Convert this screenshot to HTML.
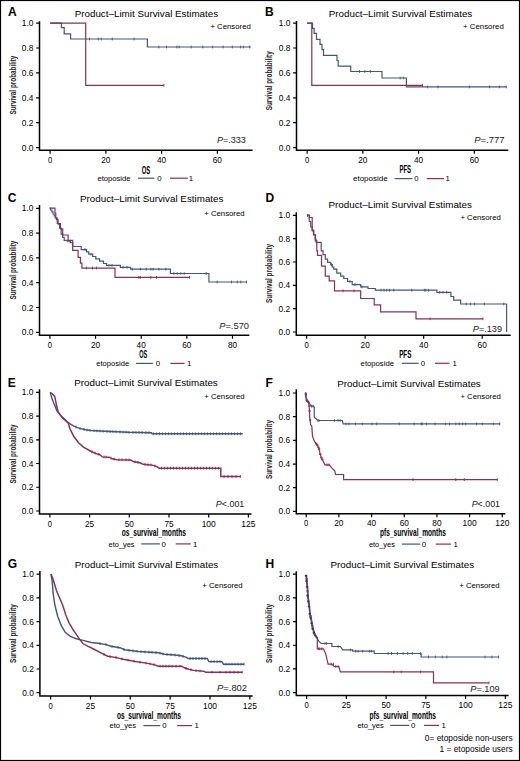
<!DOCTYPE html>
<html><head><meta charset="utf-8"><title>Survival estimates</title>
<style>html,body{margin:0;padding:0;background:#fff;}svg{display:block;}</style>
</head><body>
<svg width="520" height="761" viewBox="0 0 520 761" font-family='"Liberation Sans", sans-serif'>
<rect x="0" y="0" width="520" height="761" fill="#fff"/>
<path d="M39.5,21.3V150.3H252.6" stroke="#000" stroke-width="1.5" fill="none"/>
<path d="M36.1,147.6H39.5M36.1,122.7H39.5M36.1,97.8H39.5M36.1,72.9H39.5M36.1,48H39.5M36.1,23.1H39.5M50.1,150.3V153.8M105.86,150.3V153.8M161.62,150.3V153.8M217.38,150.3V153.8" stroke="#000" stroke-width="1.2" fill="none"/>
<text x="33.4" y="150.6" font-size="8.6" text-anchor="end" textLength="11.6" lengthAdjust="spacingAndGlyphs">0.0</text>
<text x="33.4" y="125.7" font-size="8.6" text-anchor="end" textLength="11.6" lengthAdjust="spacingAndGlyphs">0.2</text>
<text x="33.4" y="100.8" font-size="8.6" text-anchor="end" textLength="11.6" lengthAdjust="spacingAndGlyphs">0.4</text>
<text x="33.4" y="75.9" font-size="8.6" text-anchor="end" textLength="11.6" lengthAdjust="spacingAndGlyphs">0.6</text>
<text x="33.4" y="51" font-size="8.6" text-anchor="end" textLength="11.6" lengthAdjust="spacingAndGlyphs">0.8</text>
<text x="33.4" y="26.1" font-size="8.6" text-anchor="end" textLength="11.6" lengthAdjust="spacingAndGlyphs">1.0</text>
<text x="50.1" y="162.9" font-size="8.6" text-anchor="middle" textLength="4.25" lengthAdjust="spacingAndGlyphs">0</text>
<text x="105.86" y="162.9" font-size="8.6" text-anchor="middle" textLength="9.2" lengthAdjust="spacingAndGlyphs">20</text>
<text x="161.62" y="162.9" font-size="8.6" text-anchor="middle" textLength="9.2" lengthAdjust="spacingAndGlyphs">40</text>
<text x="217.38" y="162.9" font-size="8.6" text-anchor="middle" textLength="9.2" lengthAdjust="spacingAndGlyphs">60</text>
<text transform="translate(15.8,85.1) rotate(-90)" x="0" y="0" font-size="9.4" font-weight="bold" text-anchor="middle" textLength="59" lengthAdjust="spacingAndGlyphs" fill="#222">Survival probability</text>
<text x="8" y="16" font-size="12.0" font-weight="bold" fill="#000">A</text>
<text x="146.4" y="16.7" font-size="9.4" text-anchor="middle" textLength="143.5" lengthAdjust="spacingAndGlyphs">Product–Limit Survival Estimates</text>
<text x="210.4" y="29" font-size="8.0" textLength="40.4" lengthAdjust="spacingAndGlyphs">+ Censored</text>
<text x="216.9" y="143" font-size="9" textLength="29" lengthAdjust="spacingAndGlyphs" fill="#222"><tspan font-style="italic">P</tspan>=.333</text>
<text x="141.8" y="173.7" font-size="10.4" textLength="8.5" lengthAdjust="spacingAndGlyphs" font-weight="bold">OS</text>
<text x="97.4" y="180.8" font-size="7.6" textLength="33.2" lengthAdjust="spacingAndGlyphs">etoposide</text>
<path d="M137.9,178.2H154.5" stroke="#46557c" stroke-width="1.2"/>
<path d="M169.9,178.2H187.9" stroke="#8a3052" stroke-width="1.2"/>
<text x="157.3" y="181" font-size="7.8">0</text>
<text x="188.8" y="181" font-size="7.8">1</text>
<path d="M50.1,23.1H61.4V27.7H64.2V33.9H70.6V39H147.4V47H250.8" stroke="#46557c" stroke-width="1.2" fill="none"/>
<path d="M89.5,37.6V40.4M98.3,37.6V40.4M101.3,37.6V40.4M112.2,37.6V40.4M134.1,37.6V40.4M158.9,45.6V48.4M166.5,45.6V48.4M176.9,45.6V48.4M179.2,45.6V48.4M191.2,45.6V48.4M202.8,45.6V48.4M212.7,45.6V48.4M223.1,45.6V48.4M232.3,45.6V48.4M240.4,45.6V48.4M243.4,45.6V48.4M249.6,45.6V48.4" stroke="#46557c" stroke-width="0.9" fill="none"/>
<path d="M50.1,23.1H85.7V85.3H163.9" stroke="#8a3052" stroke-width="1.2" fill="none"/>
<path d="M163.9,83.9V86.7" stroke="#8a3052" stroke-width="0.9" fill="none"/>
<path d="M296.5,20.9V150.3H508.3" stroke="#000" stroke-width="1.5" fill="none"/>
<path d="M293.1,147.6H296.5M293.1,122.7H296.5M293.1,97.8H296.5M293.1,72.9H296.5M293.1,48H296.5M293.1,23.1H296.5M307.1,150.3V153.8M362.84,150.3V153.8M418.58,150.3V153.8M474.32,150.3V153.8" stroke="#000" stroke-width="1.2" fill="none"/>
<text x="290.4" y="150.6" font-size="8.6" text-anchor="end" textLength="11.6" lengthAdjust="spacingAndGlyphs">0.0</text>
<text x="290.4" y="125.7" font-size="8.6" text-anchor="end" textLength="11.6" lengthAdjust="spacingAndGlyphs">0.2</text>
<text x="290.4" y="100.8" font-size="8.6" text-anchor="end" textLength="11.6" lengthAdjust="spacingAndGlyphs">0.4</text>
<text x="290.4" y="75.9" font-size="8.6" text-anchor="end" textLength="11.6" lengthAdjust="spacingAndGlyphs">0.6</text>
<text x="290.4" y="51" font-size="8.6" text-anchor="end" textLength="11.6" lengthAdjust="spacingAndGlyphs">0.8</text>
<text x="290.4" y="26.1" font-size="8.6" text-anchor="end" textLength="11.6" lengthAdjust="spacingAndGlyphs">1.0</text>
<text x="307.1" y="162.9" font-size="8.6" text-anchor="middle" textLength="4.25" lengthAdjust="spacingAndGlyphs">0</text>
<text x="362.84" y="162.9" font-size="8.6" text-anchor="middle" textLength="9.2" lengthAdjust="spacingAndGlyphs">20</text>
<text x="418.58" y="162.9" font-size="8.6" text-anchor="middle" textLength="9.2" lengthAdjust="spacingAndGlyphs">40</text>
<text x="474.32" y="162.9" font-size="8.6" text-anchor="middle" textLength="9.2" lengthAdjust="spacingAndGlyphs">60</text>
<text transform="translate(272.1,80.8) rotate(-90)" x="0" y="0" font-size="9.4" font-weight="bold" text-anchor="middle" textLength="59" lengthAdjust="spacingAndGlyphs" fill="#222">Survival probability</text>
<text x="264.9" y="16.4" font-size="12.0" font-weight="bold" fill="#000">B</text>
<text x="400.5" y="16.9" font-size="9.4" text-anchor="middle" textLength="143.5" lengthAdjust="spacingAndGlyphs">Product–Limit Survival Estimates</text>
<text x="463.1" y="29.2" font-size="8.0" textLength="40.7" lengthAdjust="spacingAndGlyphs">+ Censored</text>
<text x="474.3" y="143" font-size="9" textLength="30.3" lengthAdjust="spacingAndGlyphs" fill="#222"><tspan font-style="italic">P</tspan>=.777</text>
<text x="399.4" y="173" font-size="10.4" textLength="11.7" lengthAdjust="spacingAndGlyphs" font-weight="bold">PFS</text>
<text x="353" y="181.2" font-size="7.6" textLength="34.7" lengthAdjust="spacingAndGlyphs">etoposide</text>
<path d="M394.6,178.6H412.4" stroke="#46557c" stroke-width="1.2"/>
<path d="M426.8,178.6H444" stroke="#8a3052" stroke-width="1.2"/>
<text x="414.2" y="181.4" font-size="7.8">0</text>
<text x="445.4" y="181.4" font-size="7.8">1</text>
<path d="M307.1,23.1H312.5V28.3H314.1V33.3H316.5V39.3H320V44.4H322V49.6H323.5V55.3H337V60.5H338.2V66.2H350.7V71.5H382V78H406.4V86.9H506.3" stroke="#46557c" stroke-width="1.2" fill="none"/>
<path d="M359.5,70.1V72.9M364.8,70.1V72.9M370.3,70.1V72.9M400.2,76.6V79.4M403.3,76.6V79.4M427.6,85.5V88.3M438,85.5V88.3M469.4,85.5V88.3M489.5,85.5V88.3M499.4,85.5V88.3M506.3,85.5V88.3" stroke="#46557c" stroke-width="0.9" fill="none"/>
<path d="M307.1,23.1H311.8V85.4H422.5" stroke="#8a3052" stroke-width="1.2" fill="none"/>
<path d="M422.5,84V86.8" stroke="#8a3052" stroke-width="0.9" fill="none"/>
<path d="M39.5,204.9V335.3H249.4" stroke="#000" stroke-width="1.5" fill="none"/>
<path d="M36.1,332.3H39.5M36.1,307.5H39.5M36.1,282.7H39.5M36.1,257.9H39.5M36.1,233.1H39.5M36.1,208.3H39.5M49.9,335.3V338.8M95.55,335.3V338.8M141.2,335.3V338.8M186.85,335.3V338.8M232.5,335.3V338.8" stroke="#000" stroke-width="1.2" fill="none"/>
<text x="33.4" y="335.3" font-size="8.6" text-anchor="end" textLength="11.6" lengthAdjust="spacingAndGlyphs">0.0</text>
<text x="33.4" y="310.5" font-size="8.6" text-anchor="end" textLength="11.6" lengthAdjust="spacingAndGlyphs">0.2</text>
<text x="33.4" y="285.7" font-size="8.6" text-anchor="end" textLength="11.6" lengthAdjust="spacingAndGlyphs">0.4</text>
<text x="33.4" y="260.9" font-size="8.6" text-anchor="end" textLength="11.6" lengthAdjust="spacingAndGlyphs">0.6</text>
<text x="33.4" y="236.1" font-size="8.6" text-anchor="end" textLength="11.6" lengthAdjust="spacingAndGlyphs">0.8</text>
<text x="33.4" y="211.3" font-size="8.6" text-anchor="end" textLength="11.6" lengthAdjust="spacingAndGlyphs">1.0</text>
<text x="49.9" y="347.9" font-size="8.6" text-anchor="middle" textLength="4.25" lengthAdjust="spacingAndGlyphs">0</text>
<text x="95.55" y="347.9" font-size="8.6" text-anchor="middle" textLength="9.2" lengthAdjust="spacingAndGlyphs">20</text>
<text x="141.2" y="347.9" font-size="8.6" text-anchor="middle" textLength="9.2" lengthAdjust="spacingAndGlyphs">40</text>
<text x="186.85" y="347.9" font-size="8.6" text-anchor="middle" textLength="9.2" lengthAdjust="spacingAndGlyphs">60</text>
<text x="232.5" y="347.9" font-size="8.6" text-anchor="middle" textLength="9.2" lengthAdjust="spacingAndGlyphs">80</text>
<text transform="translate(15.8,270.1) rotate(-90)" x="0" y="0" font-size="9.4" font-weight="bold" text-anchor="middle" textLength="59" lengthAdjust="spacingAndGlyphs" fill="#222">Survival probability</text>
<text x="7.8" y="201.7" font-size="12.0" font-weight="bold" fill="#000">C</text>
<text x="151.7" y="201.6" font-size="9.4" text-anchor="middle" textLength="143.5" lengthAdjust="spacingAndGlyphs">Product–Limit Survival Estimates</text>
<text x="204.2" y="215.5" font-size="8.0" textLength="40.4" lengthAdjust="spacingAndGlyphs">+ Censored</text>
<text x="219.2" y="328.6" font-size="9" textLength="29.8" lengthAdjust="spacingAndGlyphs" fill="#222"><tspan font-style="italic">P</tspan>=.570</text>
<text x="139.2" y="358.4" font-size="10.4" textLength="8" lengthAdjust="spacingAndGlyphs" font-weight="bold">OS</text>
<text x="96.3" y="366" font-size="7.6" textLength="32.8" lengthAdjust="spacingAndGlyphs">etoposide</text>
<path d="M136.1,363.4H153" stroke="#46557c" stroke-width="1.2"/>
<path d="M170.4,363.4H184.6" stroke="#8a3052" stroke-width="1.2"/>
<text x="155.8" y="366.2" font-size="7.8">0</text>
<text x="187" y="366.2" font-size="7.8">1</text>
<path d="M49.6,208.2H50.5V210H51.9V211.9H53V214H54.2V215.8H55.3V218H56.5V219.6H58.1V224.2H59.6V228.1H61.2V234.2H62.7V237.3H64.2V240.4H67.3V241.2H70.4V242.7H72.7V246.5H81.2V249.6H86.5V251.9H88.8V254.2H92.7V256.5H95.8V258.8H99.6V261.2H103.5V263.5H106.5V265.3H120.4V267.3H130.6V269.2H170.4V273.5H208.9V282H246.5" stroke="#46557c" stroke-width="1.2" fill="none"/>
<path d="M132.3,267.8V270.6M140.4,267.8V270.6M146.2,267.8V270.6M150.8,267.8V270.6M153.1,267.8V270.6M158.8,267.8V270.6M165.8,267.8V270.6M173.8,272.1V274.9M177.3,272.1V274.9M180.8,272.1V274.9M184.2,272.1V274.9M206.2,272.1V274.9M217.2,280.6V283.4M231.5,280.6V283.4M237.3,280.6V283.4M240.8,280.6V283.4M246.5,280.6V283.4M85,248.2V251M91,252.8V255.6M109,263.9V266.7M112,263.9V266.7M123,265.9V268.7M127,265.9V268.7" stroke="#46557c" stroke-width="0.9" fill="none"/>
<path d="M49.6,208.2H55V213H55.8V218H57.3V223.5H60.4V228.8H62.7V235H68.1V240.4H72.7V250.4H78.1V257.3H80.4V263.2H81.9V268.1H115V277.4H189.5" stroke="#8a3052" stroke-width="1.2" fill="none"/>
<path d="M138.8,276V278.8M140.4,276V278.8M150.8,276V278.8M156.5,276V278.8M189.5,276V278.8M86.3,266.6V269.4M92.5,266.6V269.4M96.5,266.6V269.4" stroke="#8a3052" stroke-width="0.9" fill="none"/>
<path d="M296.3,212.3V335.3H510.7" stroke="#000" stroke-width="1.5" fill="none"/>
<path d="M292.9,332H296.3M292.9,308.66H296.3M292.9,285.32H296.3M292.9,261.98H296.3M292.9,238.64H296.3M292.9,215.3H296.3M306.6,335.3V338.8M365.14,335.3V338.8M423.68,335.3V338.8M482.22,335.3V338.8" stroke="#000" stroke-width="1.2" fill="none"/>
<text x="290.2" y="335" font-size="8.6" text-anchor="end" textLength="11.6" lengthAdjust="spacingAndGlyphs">0.0</text>
<text x="290.2" y="311.66" font-size="8.6" text-anchor="end" textLength="11.6" lengthAdjust="spacingAndGlyphs">0.2</text>
<text x="290.2" y="288.32" font-size="8.6" text-anchor="end" textLength="11.6" lengthAdjust="spacingAndGlyphs">0.4</text>
<text x="290.2" y="264.98" font-size="8.6" text-anchor="end" textLength="11.6" lengthAdjust="spacingAndGlyphs">0.6</text>
<text x="290.2" y="241.64" font-size="8.6" text-anchor="end" textLength="11.6" lengthAdjust="spacingAndGlyphs">0.8</text>
<text x="290.2" y="218.3" font-size="8.6" text-anchor="end" textLength="11.6" lengthAdjust="spacingAndGlyphs">1.0</text>
<text x="306.6" y="347.9" font-size="8.6" text-anchor="middle" textLength="4.25" lengthAdjust="spacingAndGlyphs">0</text>
<text x="365.14" y="347.9" font-size="8.6" text-anchor="middle" textLength="9.2" lengthAdjust="spacingAndGlyphs">20</text>
<text x="423.68" y="347.9" font-size="8.6" text-anchor="middle" textLength="9.2" lengthAdjust="spacingAndGlyphs">40</text>
<text x="482.22" y="347.9" font-size="8.6" text-anchor="middle" textLength="9.2" lengthAdjust="spacingAndGlyphs">60</text>
<text transform="translate(271.9,273.4) rotate(-90)" x="0" y="0" font-size="9.4" font-weight="bold" text-anchor="middle" textLength="59" lengthAdjust="spacingAndGlyphs" fill="#222">Survival probability</text>
<text x="265.6" y="202" font-size="12.0" font-weight="bold" fill="#000">D</text>
<text x="400.2" y="208.1" font-size="9.4" text-anchor="middle" textLength="143.5" lengthAdjust="spacingAndGlyphs">Product–Limit Survival Estimates</text>
<text x="460.4" y="219.6" font-size="8.0" textLength="40.4" lengthAdjust="spacingAndGlyphs">+ Censored</text>
<text x="472.8" y="331.6" font-size="9" textLength="29.2" lengthAdjust="spacingAndGlyphs" fill="#222"><tspan font-style="italic">P</tspan>=.139</text>
<text x="399.2" y="358.3" font-size="10.4" textLength="12.2" lengthAdjust="spacingAndGlyphs" font-weight="bold">PFS</text>
<text x="360.6" y="365.9" font-size="7.6" textLength="33.4" lengthAdjust="spacingAndGlyphs">etoposide</text>
<path d="M401.8,363.3H418.8" stroke="#46557c" stroke-width="1.2"/>
<path d="M435,363.3H449.6" stroke="#8a3052" stroke-width="1.2"/>
<text x="420.8" y="366.1" font-size="7.8">0</text>
<text x="452.6" y="366.1" font-size="7.8">1</text>
<path d="M307.6,215.4H309.2V221.5H310.7V226.9H312.2V230.8H313.8V234.6H315.3V239.2H316.1V242.3H321.2V250.8H323V254.6H325.3V259.2H327.6V262.3H330.7V264.6H332.3V267H333.8V269.2H336.8V273.1H340.7V276.2H343.8V278.5H347.6V281.5H352.2V284.6H360.7V286.9H368V288.5H375.3V290.2H436.9V292.3H450.9V296.5H453.7V300.1H460.6V304H506.6V332H506.6" stroke="#46557c" stroke-width="1.2" fill="none"/>
<path d="M381,288.8V291.6M384,288.8V291.6M386.7,288.8V291.6M389.5,288.8V291.6M393.7,288.8V291.6M411.8,288.8V291.6M424.4,288.8V291.6M425.8,288.8V291.6M428.6,288.8V291.6M439.7,290.9V293.7M443,290.9V293.7M446.7,290.9V293.7M466.2,302.6V305.4M470.4,302.6V305.4M474.6,302.6V305.4M484.3,302.6V305.4M503.8,302.6V305.4M307.6,214V216.8M349.9,280.1V282.9M355,283.2V286M362,285.5V288.3M331.5,263.2V266" stroke="#46557c" stroke-width="0.9" fill="none"/>
<path d="M307.6,215.4H309.5V217.5H312.2V230H313.5V235H315.3V240.8H316.8V250.8H317.5V255.4H321.5V266.2H325.3V276.2H329.2V280.8H334.5V290.8H360.7V298.5H374.2V304.9H380.6V311.8H416V318.8H482.9" stroke="#8a3052" stroke-width="1.2" fill="none"/>
<path d="M430,317.4V320.2M482.9,317.4V320.2M343,289.4V292.2M354,289.4V292.2M307.6,214V216.8" stroke="#8a3052" stroke-width="0.9" fill="none"/>
<path d="M39.5,389.2V514H251.5" stroke="#000" stroke-width="1.5" fill="none"/>
<path d="M36.1,511H39.5M36.1,487.26H39.5M36.1,463.52H39.5M36.1,439.78H39.5M36.1,416.04H39.5M36.1,392.3H39.5M49.9,514V517.5M89.6,514V517.5M129.3,514V517.5M169,514V517.5M208.7,514V517.5M248.4,514V517.5" stroke="#000" stroke-width="1.2" fill="none"/>
<text x="33.4" y="514" font-size="8.6" text-anchor="end" textLength="11.6" lengthAdjust="spacingAndGlyphs">0.0</text>
<text x="33.4" y="490.26" font-size="8.6" text-anchor="end" textLength="11.6" lengthAdjust="spacingAndGlyphs">0.2</text>
<text x="33.4" y="466.52" font-size="8.6" text-anchor="end" textLength="11.6" lengthAdjust="spacingAndGlyphs">0.4</text>
<text x="33.4" y="442.78" font-size="8.6" text-anchor="end" textLength="11.6" lengthAdjust="spacingAndGlyphs">0.6</text>
<text x="33.4" y="419.04" font-size="8.6" text-anchor="end" textLength="11.6" lengthAdjust="spacingAndGlyphs">0.8</text>
<text x="33.4" y="395.3" font-size="8.6" text-anchor="end" textLength="11.6" lengthAdjust="spacingAndGlyphs">1.0</text>
<text x="49.9" y="526.6" font-size="8.6" text-anchor="middle" textLength="4.25" lengthAdjust="spacingAndGlyphs">0</text>
<text x="89.6" y="526.6" font-size="8.6" text-anchor="middle" textLength="9.2" lengthAdjust="spacingAndGlyphs">25</text>
<text x="129.3" y="526.6" font-size="8.6" text-anchor="middle" textLength="9.2" lengthAdjust="spacingAndGlyphs">50</text>
<text x="169" y="526.6" font-size="8.6" text-anchor="middle" textLength="9.2" lengthAdjust="spacingAndGlyphs">75</text>
<text x="208.7" y="526.6" font-size="8.6" text-anchor="middle" textLength="14.15" lengthAdjust="spacingAndGlyphs">100</text>
<text x="248.4" y="526.6" font-size="8.6" text-anchor="middle" textLength="14.15" lengthAdjust="spacingAndGlyphs">125</text>
<text transform="translate(15.8,453.9) rotate(-90)" x="0" y="0" font-size="9.4" font-weight="bold" text-anchor="middle" textLength="59" lengthAdjust="spacingAndGlyphs" fill="#222">Survival probability</text>
<text x="7.8" y="386.7" font-size="12.0" font-weight="bold" fill="#000">E</text>
<text x="146" y="386.2" font-size="9.4" text-anchor="middle" textLength="143.5" lengthAdjust="spacingAndGlyphs">Product–Limit Survival Estimates</text>
<text x="204.2" y="398.9" font-size="8.0" textLength="40.4" lengthAdjust="spacingAndGlyphs">+ Censored</text>
<text x="215.8" y="506.9" font-size="9" textLength="28.5" lengthAdjust="spacingAndGlyphs" fill="#222"><tspan font-style="italic">P</tspan><.001</text>
<text x="121.8" y="536" font-size="10.4" textLength="64.1" lengthAdjust="spacingAndGlyphs" font-weight="bold">os_survival_months</text>
<text x="108.6" y="546.5" font-size="7.6" textLength="26" lengthAdjust="spacingAndGlyphs">eto_yes</text>
<path d="M141.3,543.9H159.9" stroke="#46557c" stroke-width="1.2"/>
<path d="M175.7,543.9H190.8" stroke="#8a3052" stroke-width="1.2"/>
<text x="161.6" y="546.7" font-size="7.8">0</text>
<text x="193" y="546.7" font-size="7.8">1</text>
<path d="M50.2,392.4 L51.8,398 L53.7,403 L57.1,411.1 L62.3,417.4 L68.1,422.6 L73.8,426.1 L79.6,428.4 L85.4,429.8 L91.2,430.5 L105,431.3 L128.3,432.3 L151.5,432.7 L152,433.8 L242.7,433.8" stroke="#46557c" stroke-width="1.45" fill="none"/>
<path d="M76,425.57V428.37M80,427.1V429.9M84,428.06V430.86M87,428.59V431.39M90,428.96V431.76M94,429.26V432.06M97,429.44V432.24M100,429.61V432.41M103,429.78V432.58M107,429.99V432.79M110,430.11V432.91M113,430.24V433.04M116,430.37V433.17M120,430.54V433.34M123,430.67V433.47M126,430.8V433.6M129,430.91V433.71M133,430.98V433.78M136,431.03V433.83M139,431.08V433.88M142,431.14V433.94M146,431.21V434.01M149,431.26V434.06M153.5,432.4V435.2M156.5,432.4V435.2M159.5,432.4V435.2M162.5,432.4V435.2M165.5,432.4V435.2M168.5,432.4V435.2M171.5,432.4V435.2M174.5,432.4V435.2M177.5,432.4V435.2M180.5,432.4V435.2M183.5,432.4V435.2M186.5,432.4V435.2M189.5,432.4V435.2M192.5,432.4V435.2M195.5,432.4V435.2M198.5,432.4V435.2M201.5,432.4V435.2M204.5,432.4V435.2M207.5,432.4V435.2M210.5,432.4V435.2M213.5,432.4V435.2M216.5,432.4V435.2M219.5,432.4V435.2M222.5,432.4V435.2M225.5,432.4V435.2M228.5,432.4V435.2M231.5,432.4V435.2M234.5,432.4V435.2M237.5,432.4V435.2M240.5,432.4V435.2" stroke="#46557c" stroke-width="0.9" fill="none"/>
<path d="M50.2,392.4 L52.5,394 L54.8,396.7 L56.5,405.3 L58.3,412.2 L62.3,417.4 L68.1,422.6 L69.8,428.4 L73.8,436.5 L78.5,442.8 L83.1,446.8 L91.2,451.5 L98.1,454.3 L100,454.6 L102.3,456.9 L109.2,457.2 L112.3,458.8 L116.9,459.7 L130.8,460 L133.1,461.5 L140,462.8 L143,464.3 L152.3,465.1 L156.9,466.6 L159.2,468.2 L220.8,468.2 L220.8,476.5 L240.4,476.5" stroke="#8a3052" stroke-width="1.45" fill="none"/>
<path d="M92,450.42V453.22M95,451.64V454.44M99,453.04V455.84M104,455.57V458.37M106,455.66V458.46M111,456.73V459.53M114,457.73V460.53M119,458.35V461.15M122,458.41V461.21M126,458.5V461.3M129,458.56V461.36M135,460.46V463.26M138,461.02V463.82M145,463.07V465.87M148,463.33V466.13M151,463.59V466.39M155,464.58V467.38M161.5,466.8V469.6M164.5,466.8V469.6M167.5,466.8V469.6M170.5,466.8V469.6M173.5,466.8V469.6M176.5,466.8V469.6M179.5,466.8V469.6M182.5,466.8V469.6M185.5,466.8V469.6M188.5,466.8V469.6M191.5,466.8V469.6M194.5,466.8V469.6M197.5,466.8V469.6M200.5,466.8V469.6M203.5,466.8V469.6M206.5,466.8V469.6M209.5,466.8V469.6M212.5,466.8V469.6M215.5,466.8V469.6M218.5,466.8V469.6M224,475.1V477.9M228,475.1V477.9M232,475.1V477.9M236,475.1V477.9M240.4,475.1V477.9" stroke="#8a3052" stroke-width="0.9" fill="none"/>
<path d="M296.3,389.2V513.7H505.4" stroke="#000" stroke-width="1.5" fill="none"/>
<path d="M292.9,511.4H296.3M292.9,487.72H296.3M292.9,464.04H296.3M292.9,440.36H296.3M292.9,416.68H296.3M292.9,393H296.3M306.2,513.7V517.2M338.88,513.7V517.2M371.56,513.7V517.2M404.24,513.7V517.2M436.92,513.7V517.2M469.6,513.7V517.2M502.28,513.7V517.2" stroke="#000" stroke-width="1.2" fill="none"/>
<text x="290.2" y="514.4" font-size="8.6" text-anchor="end" textLength="11.6" lengthAdjust="spacingAndGlyphs">0.0</text>
<text x="290.2" y="490.72" font-size="8.6" text-anchor="end" textLength="11.6" lengthAdjust="spacingAndGlyphs">0.2</text>
<text x="290.2" y="467.04" font-size="8.6" text-anchor="end" textLength="11.6" lengthAdjust="spacingAndGlyphs">0.4</text>
<text x="290.2" y="443.36" font-size="8.6" text-anchor="end" textLength="11.6" lengthAdjust="spacingAndGlyphs">0.6</text>
<text x="290.2" y="419.68" font-size="8.6" text-anchor="end" textLength="11.6" lengthAdjust="spacingAndGlyphs">0.8</text>
<text x="290.2" y="396" font-size="8.6" text-anchor="end" textLength="11.6" lengthAdjust="spacingAndGlyphs">1.0</text>
<text x="306.2" y="526.3" font-size="8.6" text-anchor="middle" textLength="4.25" lengthAdjust="spacingAndGlyphs">0</text>
<text x="338.88" y="526.3" font-size="8.6" text-anchor="middle" textLength="9.2" lengthAdjust="spacingAndGlyphs">20</text>
<text x="371.56" y="526.3" font-size="8.6" text-anchor="middle" textLength="9.2" lengthAdjust="spacingAndGlyphs">40</text>
<text x="404.24" y="526.3" font-size="8.6" text-anchor="middle" textLength="9.2" lengthAdjust="spacingAndGlyphs">60</text>
<text x="436.92" y="526.3" font-size="8.6" text-anchor="middle" textLength="9.2" lengthAdjust="spacingAndGlyphs">80</text>
<text x="469.6" y="526.3" font-size="8.6" text-anchor="middle" textLength="14.15" lengthAdjust="spacingAndGlyphs">100</text>
<text x="502.28" y="526.3" font-size="8.6" text-anchor="middle" textLength="14.15" lengthAdjust="spacingAndGlyphs">120</text>
<text transform="translate(272.1,449.5) rotate(-90)" x="0" y="0" font-size="9.4" font-weight="bold" text-anchor="middle" textLength="59" lengthAdjust="spacingAndGlyphs" fill="#222">Survival probability</text>
<text x="265.6" y="386.7" font-size="12.0" font-weight="bold" fill="#000">F</text>
<text x="409" y="386.5" font-size="9.4" text-anchor="middle" textLength="143.5" lengthAdjust="spacingAndGlyphs">Product–Limit Survival Estimates</text>
<text x="460.4" y="398.9" font-size="8.0" textLength="40.4" lengthAdjust="spacingAndGlyphs">+ Censored</text>
<text x="471.7" y="506.7" font-size="9" textLength="28.3" lengthAdjust="spacingAndGlyphs" fill="#222"><tspan font-style="italic">P</tspan><.001</text>
<text x="380.1" y="536" font-size="10.4" textLength="65.8" lengthAdjust="spacingAndGlyphs" font-weight="bold">pfs_survival_months</text>
<text x="368.9" y="546.7" font-size="7.6" textLength="26" lengthAdjust="spacingAndGlyphs">eto_yes</text>
<path d="M401.9,544.1H420.3" stroke="#46557c" stroke-width="1.2"/>
<path d="M435.7,544.1H451" stroke="#8a3052" stroke-width="1.2"/>
<text x="421.8" y="546.9" font-size="7.8">0</text>
<text x="453.6" y="546.9" font-size="7.8">1</text>
<path d="M305.6,392.5 L305.9,397.5 L307.5,400 L309.4,403.7 L311.2,406.2 L313.7,406.2 L314.3,407.5 L314.3,417.4 L316.2,418.7 L317.5,420.5 L342.4,420.5 L343,423.9 L500.3,423.9" stroke="#46557c" stroke-width="1.2" fill="none"/>
<path d="M345.9,422.5V425.3M348.8,422.5V425.3M355.5,422.5V425.3M362.3,422.5V425.3M371.9,422.5V425.3M376.7,422.5V425.3M399.2,422.5V425.3M414.2,422.5V425.3M421.2,422.5V425.3M422.3,422.5V425.3M426.5,422.5V425.3M435,422.5V425.3M445.4,422.5V425.3M449.5,422.5V425.3M455.8,422.5V425.3M459.2,422.5V425.3M462.7,422.5V425.3M465.7,422.5V425.3M476.5,422.5V425.3M482.3,422.5V425.3M493.4,422.5V425.3M499.6,422.5V425.3M317.9,419.1V421.9M319,419.1V421.9M334.4,419.1V421.9M338,419.1V421.9M340.2,419.1V421.9M311.5,404.8V407.6M313,404.8V407.6" stroke="#46557c" stroke-width="0.9" fill="none"/>
<path d="M304.7,395h2.2M304.7,393.5h2.2" stroke="#46557c" stroke-width="1.6" fill="none"/>
<path d="M305.6,392.5 L306.2,400.6 L308.7,402.5 L309.4,408.7 L309.7,417.4 L310.6,424.3 L311.8,426.2 L312.5,436.1 L314.3,441.1 L316.2,443.6 L318.1,446.7 L319.3,449.2 L320,453.6 L321.2,457.3 L323.1,461.1 L324.9,464.8 L329.3,464.8 L332.4,468.6 L334.9,471 L335.5,474.5 L343.6,474.5 L343.6,479.6 L497.3,479.6" stroke="#8a3052" stroke-width="1.2" fill="none"/>
<path d="M413.1,478.2V481M455.8,478.2V481M464.3,478.2V481M497.3,478.2V481M327,463.4V466.2M329,463.4V466.2" stroke="#8a3052" stroke-width="0.9" fill="none"/>
<path d="M306.2,401.2h2.2M307.4,402.4h2.2M308.4,406h2.2M308.5,411h2.2M309,420h2.2M315.2,443.6h2.2M316.2,445.2h2.2M317.3,447.2h2.2M318,449h2.2M319.2,454.3h2.2M320.3,457.6h2.2M321.2,459.5h2.2" stroke="#8a3052" stroke-width="1.6" fill="none"/>
<path d="M39.9,571.1V695.9H252.6" stroke="#000" stroke-width="1.5" fill="none"/>
<path d="M36.5,692.7H39.9M36.5,669H39.9M36.5,645.3H39.9M36.5,621.6H39.9M36.5,597.9H39.9M36.5,574.2H39.9M50.6,695.9V699.4M90.45,695.9V699.4M130.3,695.9V699.4M170.15,695.9V699.4M210,695.9V699.4M249.85,695.9V699.4" stroke="#000" stroke-width="1.2" fill="none"/>
<text x="33.8" y="695.7" font-size="8.6" text-anchor="end" textLength="11.6" lengthAdjust="spacingAndGlyphs">0.0</text>
<text x="33.8" y="672" font-size="8.6" text-anchor="end" textLength="11.6" lengthAdjust="spacingAndGlyphs">0.2</text>
<text x="33.8" y="648.3" font-size="8.6" text-anchor="end" textLength="11.6" lengthAdjust="spacingAndGlyphs">0.4</text>
<text x="33.8" y="624.6" font-size="8.6" text-anchor="end" textLength="11.6" lengthAdjust="spacingAndGlyphs">0.6</text>
<text x="33.8" y="600.9" font-size="8.6" text-anchor="end" textLength="11.6" lengthAdjust="spacingAndGlyphs">0.8</text>
<text x="33.8" y="577.2" font-size="8.6" text-anchor="end" textLength="11.6" lengthAdjust="spacingAndGlyphs">1.0</text>
<text x="50.6" y="708.5" font-size="8.6" text-anchor="middle" textLength="4.25" lengthAdjust="spacingAndGlyphs">0</text>
<text x="90.45" y="708.5" font-size="8.6" text-anchor="middle" textLength="9.2" lengthAdjust="spacingAndGlyphs">25</text>
<text x="130.3" y="708.5" font-size="8.6" text-anchor="middle" textLength="9.2" lengthAdjust="spacingAndGlyphs">50</text>
<text x="170.15" y="708.5" font-size="8.6" text-anchor="middle" textLength="9.2" lengthAdjust="spacingAndGlyphs">75</text>
<text x="210" y="708.5" font-size="8.6" text-anchor="middle" textLength="14.15" lengthAdjust="spacingAndGlyphs">100</text>
<text x="249.85" y="708.5" font-size="8.6" text-anchor="middle" textLength="14.15" lengthAdjust="spacingAndGlyphs">125</text>
<text transform="translate(15.9,633.6) rotate(-90)" x="0" y="0" font-size="9.4" font-weight="bold" text-anchor="middle" textLength="59" lengthAdjust="spacingAndGlyphs" fill="#222">Survival probability</text>
<text x="7.8" y="568" font-size="12.0" font-weight="bold" fill="#000">G</text>
<text x="146.5" y="568.1" font-size="9.4" text-anchor="middle" textLength="143.5" lengthAdjust="spacingAndGlyphs">Product–Limit Survival Estimates</text>
<text x="202.3" y="587.9" font-size="8.0" textLength="40.4" lengthAdjust="spacingAndGlyphs">+ Censored</text>
<text x="217" y="691.3" font-size="9" textLength="30.1" lengthAdjust="spacingAndGlyphs" fill="#222"><tspan font-style="italic">P</tspan>=.802</text>
<text x="116.9" y="719" font-size="10.4" textLength="64" lengthAdjust="spacingAndGlyphs" font-weight="bold">os_survival_months</text>
<text x="109.5" y="728.2" font-size="7.6" textLength="26.5" lengthAdjust="spacingAndGlyphs">eto_yes</text>
<path d="M143.4,725.6H160.3" stroke="#46557c" stroke-width="1.2"/>
<path d="M177.2,725.6H192" stroke="#8a3052" stroke-width="1.2"/>
<text x="162.2" y="728.4" font-size="7.8">0</text>
<text x="194.4" y="728.4" font-size="7.8">1</text>
<path d="M51,574 L52.2,581.5 L53.1,593.1 L54.8,604.6 L57.7,616.2 L61.2,625.4 L65.2,632.3 L70.4,636.3 L76.2,638.7 L83.1,640.4 L91.2,642.5 L98.1,643.3 L106.2,644.6 L110.8,646.2 L120,647.7 L124.6,649.7 L138.5,651.5 L158.5,652.8 L164.6,654.3 L175,655 L181.2,655.8 L186.5,657.3 L188.1,658.5 L207.3,658.5 L208.8,661.6 L221.9,661.6 L223.5,664.2 L244.2,664.2" stroke="#46557c" stroke-width="1.45" fill="none"/>
<path d="M100,642.2V645M106,643.17V645.97M112,645V647.8M118,645.97V648.77M124,648.04V650.84M129,648.87V651.67M133,649.39V652.19M137,649.91V652.71M141,650.26V653.06M145,650.52V653.32M149,650.78V653.58M152,650.98V653.78M156,651.24V654.04M160,651.77V654.57M163,652.51V655.31M167,653.06V655.86M171,653.33V656.13M175,653.6V656.4M179,654.12V656.92M183,654.91V657.71M190,657.1V659.9M193,657.1V659.9M196,657.1V659.9M199,657.1V659.9M202,657.1V659.9M205,657.1V659.9M211,660.2V663M214,660.2V663M217,660.2V663M220,660.2V663M226,662.8V665.6M229,662.8V665.6M232,662.8V665.6M235,662.8V665.6M238,662.8V665.6M241,662.8V665.6M244,662.8V665.6" stroke="#46557c" stroke-width="0.9" fill="none"/>
<path d="M51,574 L53.1,579.2 L56.5,590.8 L60,598.8 L62.9,605.8 L65.8,615 L69.2,623.1 L73.3,630 L77.3,635.8 L79.6,639.2 L83.1,643.8 L87.7,646.2 L93.5,649 L100,652.3 L107.7,656.2 L115.4,657.4 L123.1,659.2 L135.4,661.5 L146.2,663.1 L153.8,664.6 L158.5,666.2 L181.9,666.2 L184.2,667.8 L188.8,669.2 L193.5,670.4 L203.5,671.2 L205.8,672.2 L242.7,672.2" stroke="#8a3052" stroke-width="1.45" fill="none"/>
<path d="M104,652.93V655.73M110,655.16V657.96M116,656.14V658.94M122,657.54V660.34M128,658.72V661.52M134,659.84V662.64M140,660.78V663.58M146,661.67V664.47M150,662.45V665.25M154,663.27V666.07M160,664.8V667.6M163,664.8V667.6M166,664.8V667.6M169,664.8V667.6M172,664.8V667.6M176,664.8V667.6M180,664.8V667.6M186,666.95V669.75M191,668.36V671.16M196,669.2V672M200,669.52V672.32M212,670.8V673.6M220,670.8V673.6M226,670.8V673.6M230,670.8V673.6M234,670.8V673.6M238,670.8V673.6M242,670.8V673.6" stroke="#8a3052" stroke-width="0.9" fill="none"/>
<path d="M296.3,571.3V695.6H508.6" stroke="#000" stroke-width="1.5" fill="none"/>
<path d="M292.9,692.6H296.3M292.9,668.92H296.3M292.9,645.24H296.3M292.9,621.56H296.3M292.9,597.88H296.3M292.9,574.2H296.3M306.6,695.6V699.1M346.35,695.6V699.1M386.1,695.6V699.1M425.85,695.6V699.1M465.6,695.6V699.1M505.35,695.6V699.1" stroke="#000" stroke-width="1.2" fill="none"/>
<text x="290.2" y="695.6" font-size="8.6" text-anchor="end" textLength="11.6" lengthAdjust="spacingAndGlyphs">0.0</text>
<text x="290.2" y="671.92" font-size="8.6" text-anchor="end" textLength="11.6" lengthAdjust="spacingAndGlyphs">0.2</text>
<text x="290.2" y="648.24" font-size="8.6" text-anchor="end" textLength="11.6" lengthAdjust="spacingAndGlyphs">0.4</text>
<text x="290.2" y="624.56" font-size="8.6" text-anchor="end" textLength="11.6" lengthAdjust="spacingAndGlyphs">0.6</text>
<text x="290.2" y="600.88" font-size="8.6" text-anchor="end" textLength="11.6" lengthAdjust="spacingAndGlyphs">0.8</text>
<text x="290.2" y="577.2" font-size="8.6" text-anchor="end" textLength="11.6" lengthAdjust="spacingAndGlyphs">1.0</text>
<text x="306.6" y="708.2" font-size="8.6" text-anchor="middle" textLength="4.25" lengthAdjust="spacingAndGlyphs">0</text>
<text x="346.35" y="708.2" font-size="8.6" text-anchor="middle" textLength="9.2" lengthAdjust="spacingAndGlyphs">25</text>
<text x="386.1" y="708.2" font-size="8.6" text-anchor="middle" textLength="9.2" lengthAdjust="spacingAndGlyphs">50</text>
<text x="425.85" y="708.2" font-size="8.6" text-anchor="middle" textLength="9.2" lengthAdjust="spacingAndGlyphs">75</text>
<text x="465.6" y="708.2" font-size="8.6" text-anchor="middle" textLength="14.15" lengthAdjust="spacingAndGlyphs">100</text>
<text x="505.35" y="708.2" font-size="8.6" text-anchor="middle" textLength="14.15" lengthAdjust="spacingAndGlyphs">125</text>
<text transform="translate(271.9,633.4) rotate(-90)" x="0" y="0" font-size="9.4" font-weight="bold" text-anchor="middle" textLength="59" lengthAdjust="spacingAndGlyphs" fill="#222">Survival probability</text>
<text x="265.6" y="568" font-size="12.0" font-weight="bold" fill="#000">H</text>
<text x="402.3" y="568.1" font-size="9.4" text-anchor="middle" textLength="143.5" lengthAdjust="spacingAndGlyphs">Product–Limit Survival Estimates</text>
<text x="459.2" y="587.9" font-size="8.0" textLength="40.4" lengthAdjust="spacingAndGlyphs">+ Censored</text>
<text x="470.3" y="691.8" font-size="9" textLength="29.4" lengthAdjust="spacingAndGlyphs" fill="#222"><tspan font-style="italic">P</tspan>=.109</text>
<text x="369.5" y="719" font-size="10.4" textLength="66.4" lengthAdjust="spacingAndGlyphs" font-weight="bold">pfs_survival_months</text>
<text x="357.4" y="728" font-size="7.6" textLength="26.4" lengthAdjust="spacingAndGlyphs">eto_yes</text>
<path d="M390.2,725.4H409.2" stroke="#46557c" stroke-width="1.2"/>
<path d="M424,725.4H439" stroke="#8a3052" stroke-width="1.2"/>
<text x="411" y="728.2" font-size="7.8">0</text>
<text x="441.6" y="728.2" font-size="7.8">1</text>
<path d="M306.4,574.7 L306.9,580 L307.6,587.8 L308.2,597.2 L309.4,605.5 L310.2,613.8 L311.7,620.9 L312.9,628 L314.7,633.9 L316.5,636.9 L317.8,638.5" stroke="#8a3052" stroke-width="1.45" fill="none"/>
<path d="M305.9,574.7 L306.4,580 L307.1,587.8 L307.7,597.2 L308.9,605.5 L309.7,613.8 L311.2,620.9 L312.4,628 L314.2,633.9 L316,636.9 L317.3,638.5 L318.8,641.2 L321.2,643.5 L331.9,643.5 L331.9,646.5 L340.4,646.5 L342.7,649.9 L352.7,649.9 L352.7,651.2 L374.2,651.2 L374.2,653.5 L421.1,653.5 L421.1,657 L498.5,657" stroke="#46557c" stroke-width="1.2" fill="none"/>
<path d="M325,642.1V644.9M326.5,642.1V644.9M338.1,645.1V647.9M350.4,648.5V651.3M355.8,649.8V652.6M358.1,649.8V652.6M362.7,649.8V652.6M369.6,649.8V652.6M371.2,649.8V652.6M388.1,652.1V654.9M391.5,652.1V654.9M397.3,652.1V654.9M403.1,652.1V654.9M407.7,652.1V654.9M412.3,652.1V654.9M420.4,652.1V654.9M428.5,655.6V658.4M435.4,655.6V658.4M442.3,655.6V658.4M446.9,655.6V658.4M485,655.6V658.4M491.9,655.6V658.4M498.5,655.6V658.4" stroke="#46557c" stroke-width="0.9" fill="none"/>
<path d="M317.3,638.5 L317.3,648.8 L323.5,648.8 L325.8,654.2 L328.1,664.2 L331.9,664.2 L334.2,666.5 L338.8,666.5 L340.4,671.9 L433.5,671.9 L433.5,682.8 L488.9,682.8" stroke="#8a3052" stroke-width="1.2" fill="none"/>
<path d="M318.6,647.4V650.2M319.8,647.4V650.2M321.9,647.4V650.2M331.2,662.8V665.6M333.5,662.8V665.6M335.8,665.1V667.9M338.1,665.1V667.9M393.8,670.5V673.3M401.2,670.5V673.3M420.4,670.5V673.3M488.9,681.4V684.2" stroke="#8a3052" stroke-width="0.9" fill="none"/>
<path d="M304.9,575.76h2.2M305.4,581.11h2.2M305.9,586.69h2.2M306.5,595.63h2.2M307.2,601.35h2.2M307.9,606.54h2.2M308.6,613.8h2.2M309.5,618.06h2.2M310.5,623.27h2.2M311.5,628.66h2.2M312.7,632.59h2.2M314.1,635.57h2.2" stroke="#2c3350" stroke-width="1.6" fill="none"/>
<path d="M305.5,578.94h2.2M306.5,590.93h2.2M307.8,603.43h2.2M309.4,616.17h2.2M311.2,625.63h2.2M313.5,634.07h2.2M315.7,637.52h2.2" stroke="#8a3052" stroke-width="1.6" fill="none"/>
<text x="424.8" y="740.6" font-size="8.2" textLength="87.8" lengthAdjust="spacingAndGlyphs">0= etoposide non-users</text>
<text x="439.6" y="751.6" font-size="8.2" textLength="73" lengthAdjust="spacingAndGlyphs">1 = etoposide users</text>
<rect x="0.5" y="0.5" width="519" height="760" fill="none" stroke="#000" stroke-width="1.2"/>
</svg>
</body></html>
